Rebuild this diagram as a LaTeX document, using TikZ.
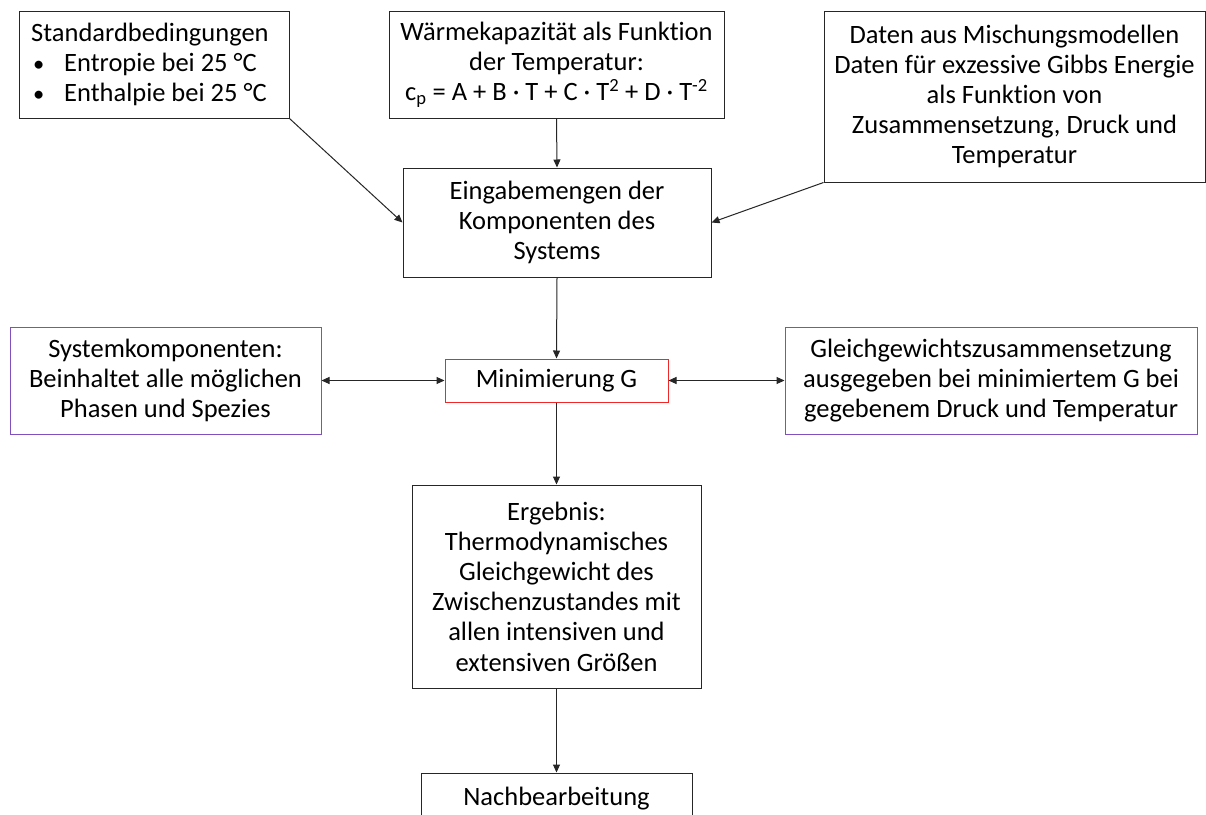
\documentclass[tikz,border=0pt]{standalone}
\usepackage{fontspec}
\setmainfont{Carlito}[Ligatures=NoCommon]
\usetikzlibrary{arrows.meta}
\definecolor{boxpurple}{RGB}{130,80,190}
\definecolor{boxred}{RGB}{240,40,40}
\tikzset{
  box/.style={draw=black!85, line width=1pt, rectangle, inner sep=0pt, align=center,
    font=\fontsize{26.5}{30.2}\selectfont},
  pbox/.style={box, draw=boxpurple},
  rbox/.style={box, draw=boxred},
  txt/.style={inner sep=0pt, align=left, font=\fontsize{26.5}{30.2}\selectfont},
  conn/.style={draw=black!85, line width=1pt, -{Triangle[length=8pt,width=7pt]}},
  dconn/.style={draw=black!85, line width=1pt, {Triangle[length=8pt,width=7pt]}-{Triangle[length=8pt,width=7pt]}}
}
\newcommand{\blt}{\makebox[33pt][l]{\hspace{2pt}\scalebox{0.85}{•}}}
\begin{document}
\begin{tikzpicture}[x=1pt,y=-1pt]
\useasboundingbox (0,0) rectangle (1206,814);
\clip (0,0) rectangle (1206,814);
\fill[white] (0,0) rectangle (1206,814);

\node[box, minimum width=270pt, minimum height=107pt] (b1) at (154,64.5) {};
\node[txt, anchor=west] (b1t) at (31,64.5)
  {Standardbedingungen\\
   \blt Entropie bei 25 °C\\
   \blt Enthalpie bei 25 °C};

\node[box, minimum width=335pt, minimum height=107pt] (b2) at (556.5,64.5)
  {Wärmekapazität als Funktion\\
   der Temperatur:\\
   c\textsubscript{p} = A + B · T + C · T\textsuperscript{2} + D · T\textsuperscript{-2}};

\node[box, minimum width=381pt, minimum height=171pt] (b3) at (1014.5,96.5)
  {Daten aus Mischungsmodellen\\
   Daten für exzessive Gibbs Energie\\
   als Funktion von\\
   Zusammensetzung, Druck und\\
   Temperatur};

\node[box, minimum width=308pt, minimum height=109pt] (b4) at (557,222.5)
  {Eingabemengen der\\
   Komponenten des\\
   Systems};

\node[pbox, minimum width=311pt, minimum height=107pt] (b5) at (165.5,380.5)
  {Systemkomponenten:\\
   Beinhaltet alle möglichen\\
   Phasen und Spezies};

\node[rbox, minimum width=223pt, minimum height=43pt] (m) at (556.5,380.5)
  {Minimierung G};

\node[pbox, minimum width=412pt, minimum height=107pt] (b6) at (991,380.5)
  {Gleichgewichtszusammensetzung\\
   ausgegeben bei minimiertem G bei\\
   gegebenem Druck und Temperatur};

\node[box, minimum width=289pt, minimum height=203pt] (b7) at (556.5,586.5)
  {Ergebnis:\\
   Thermodynamisches\\
   Gleichgewicht des\\
   Zwischenzustandes mit\\
   allen intensiven und\\
   extensiven Größen};

\node[box, minimum width=271pt, minimum height=52pt] (b8) at (556.5,799)
  {Nachbearbeitung};

\draw[conn] (b2.south) -- (b4.north);
\draw[conn] (b1.south east) -- (b4.west);
\draw[conn] (b3.south west) -- (b4.east);
\draw[conn] (b4.south) -- (m.north);
\draw[dconn] (b5.east) -- (m.west);
\draw[dconn] (m.east) -- (b6.west);
\draw[conn] (m.south) -- (b7.north);
\draw[conn] (b7.south) -- (b8.north);
\end{tikzpicture}
\end{document}
